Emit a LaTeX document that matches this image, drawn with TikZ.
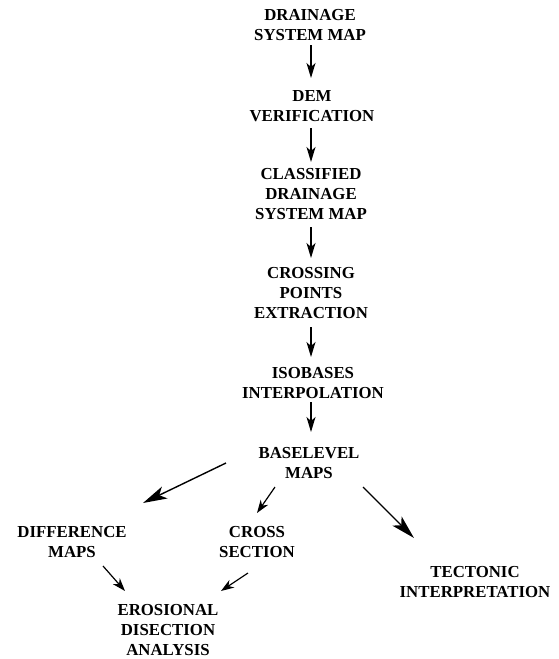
\documentclass[tikz,border=0pt]{standalone}
\usepackage{fontspec}
\setmainfont{Liberation Serif}
\usetikzlibrary{arrows.meta,calc}
\tikzset{
  lbl/.style={inner sep=0pt, outer sep=0pt, align=center, font=\fontsize{16.8}{20}\selectfont\bfseries},
  varr/.style={line width=1.2pt, -{Stealth[length=15pt,width=9pt,inset=4pt]}},
  bigarr/.style={line width=1.4pt, -{Stealth[length=24pt,width=13pt,inset=6pt]}},
  smallarr/.style={line width=1.2pt, -{Stealth[length=13pt,width=9pt,inset=4pt]}},
}
\begin{document}
\begin{tikzpicture}[x=1pt,y=-1pt]
\useasboundingbox (0,0) rectangle (559,659);
\node[lbl] (n1) at (310,25.5) {DRAINAGE\\SYSTEM MAP};
\node[lbl] (n2) at (312,106) {DEM\\VERIFICATION};
\node[lbl] (n3) at (311,194) {CLASSIFIED\\DRAINAGE\\SYSTEM MAP};
\node[lbl] (n4) at (311,293) {CROSSING\\POINTS\\EXTRACTION};
\node[lbl] (n5) at (313,383) {ISOBASES\\INTERPOLATION};
\node[lbl] (n6) at (309,463) {BASELEVEL\\MAPS};
\node[lbl] (n7) at (72,542) {DIFFERENCE\\MAPS};
\node[lbl] (n8) at (257,542) {CROSS\\SECTION};
\node[lbl] (n9) at (475,582) {TECTONIC\\INTERPRETATION};
\node[lbl] (n10) at (168,630) {EROSIONAL\\DISECTION\\ANALYSIS};
% vertical chain
\draw[varr] ($(n1)+(1,19.5)$) -- ($(n2)+(-1,-28)$);
\draw[varr] ($(n2)+(-1,22)$) -- ($(n3)+(0,-32)$);
\draw[varr] ($(n3)+(0,33)$) -- ($(n4)+(0,-35)$);
\draw[varr] ($(n4)+(0,34)$) -- ($(n5)+(-2,-26)$);
\draw[varr] ($(n5)+(-2,19)$) -- ($(n6)+(2,-31)$);
% branches
\draw[bigarr] ($(n6)+(-83,0)$) -- ($(n7)+(71,-39)$);
\draw[smallarr] ($(n6)+(-34,24)$) -- ($(n8)+(0,-29)$);
\draw[bigarr] ($(n6)+(54,24)$) -- ($(n9)+(-61,-44)$);
\draw[smallarr] ($(n7)+(31,24)$) -- ($(n10)+(-43,-39)$);
\draw[smallarr] ($(n8)+(-9,31)$) -- ($(n10)+(53,-39)$);
\end{tikzpicture}
\end{document}
